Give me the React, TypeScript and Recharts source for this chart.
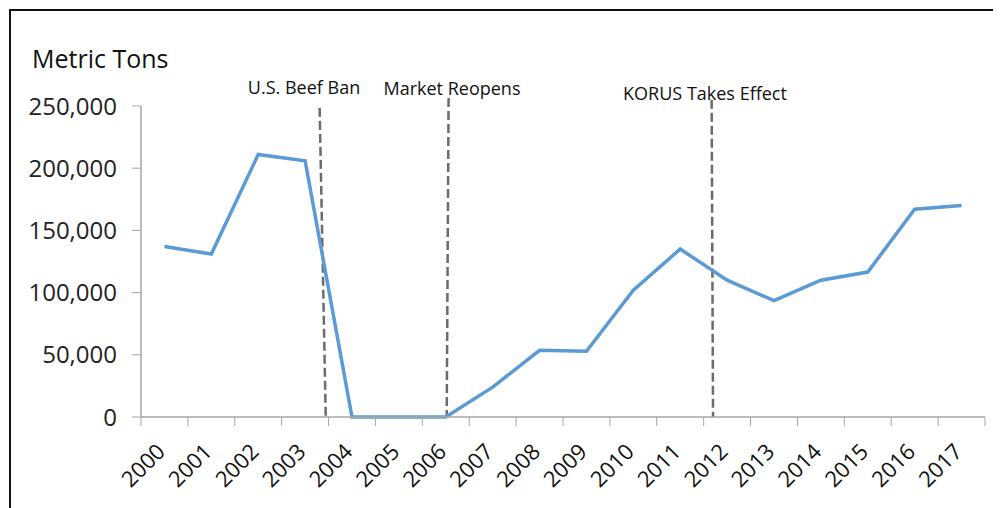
import React from 'react';
import { LineChart, Line, XAxis, YAxis, ReferenceLine } from 'recharts';

const years = [
  '2000', '2001', '2002', '2003', '2004', '2005', '2006', '2007', '2008',
  '2009', '2010', '2011', '2012', '2013', '2014', '2015', '2016', '2017',
];

// metric tons
const tons = [
  137000, 131000, 211000, 206000, 0, 0, 0, 24000, 53600,
  52800, 102000, 135000, 110000, 93500, 110000, 116500, 167000, 170000,
];

const yTicks = [0, 50000, 100000, 150000, 200000, 250000];

// events: name plus the dashed line's top/bottom position (category index units)
const events = [
  { name: 'U.S. Beef Ban', top: { x: 3.31, y: 248500 }, bottom: { x: 3.44, y: 0 } },
  { name: 'Market Reopens', top: { x: 6.06, y: 256500 }, bottom: { x: 6.02, y: 0 } },
  { name: 'KORUS Takes Effect', top: { x: 11.67, y: 255000 }, bottom: { x: 11.7, y: 0 } },
];

const data = years.map((year, i) => ({ idx: i, year, tons: tons[i] }));
const boundaryTicks = Array.from({ length: years.length + 1 }, (_, i) => i - 0.5);

const W = 1001;
const H = 508;
const Y_AXIS_W = 141;
const RIGHT = 16;
const HALF_STEP = (W - Y_AXIS_W - RIGHT) / years.length / 2;
const FONT = '"Open Sans", "Noto Sans", sans-serif';

function YearTick(props: any) {
  const { x, y, payload } = props;
  const i = payload.value + 0.5;
  if (i >= years.length) return null;
  const tx = x + HALF_STEP + 2;
  const ty = y + 25;
  return (
    <text
      x={tx}
      y={ty}
      textAnchor="end"
      transform={`rotate(-45 ${tx} ${ty})`}
      fontSize={22}
      fontFamily={FONT}
      fill="#111"
    >
      {years[i]}
    </text>
  );
}

// label positions for the event captions
const captionPos = [
  { x: 304, y: 94 },
  { x: 452, y: 95 },
  { x: 705, y: 100 },
];

export default function App() {
  return (
    <div style={{ position: 'relative', width: W, height: H, margin: '-8px 0 0 -8px', overflow: 'hidden', background: '#fff' }}>
      <div
        style={{
          position: 'absolute',
          left: 9,
          top: 9,
          width: 1100,
          height: 600,
          border: '2px solid #111',
        }}
      />
      <div style={{ position: 'absolute', left: 0, top: 0 }}>
        <LineChart width={W} height={H} data={data} margin={{ top: 106, right: RIGHT, bottom: 0, left: 0 }}>
          <XAxis
            dataKey="idx"
            type="number"
            domain={[-0.5, years.length - 0.5]}
            ticks={boundaryTicks}
            interval={0}
            tickSize={9}
            stroke="#a6a6a6"
            tickLine={{ stroke: '#a6a6a6' }}
            axisLine={{ stroke: '#a6a6a6', strokeWidth: 1.5 }}
            tick={<YearTick />}
            height={91}
          />
          <YAxis
            domain={[0, 250000]}
            ticks={yTicks}
            interval={0}
            width={Y_AXIS_W}
            tickSize={9}
            tickMargin={15}
            axisLine={{ stroke: '#a6a6a6', strokeWidth: 1.5 }}
            tickLine={{ stroke: '#a6a6a6' }}
            tick={{ fill: '#222', fontSize: 24, fontFamily: FONT }}
            tickFormatter={(v: number) => v.toLocaleString('en-US')}
          />
          {events.map((e) => (
            <ReferenceLine
              key={e.name}
              segment={[e.top, e.bottom]}
              ifOverflow="visible"
              stroke="#6b6b6b"
              strokeWidth={2.5}
              strokeDasharray="9 4"
            />
          ))}
          <Line
            dataKey="tons"
            type="linear"
            stroke="#5b9bd5"
            strokeWidth={3.5}
            dot={false}
            isAnimationActive={false}
          />
        </LineChart>
      </div>
      <svg width={W} height={H} style={{ position: 'absolute', left: 0, top: 0, pointerEvents: 'none' }}>
        <text x={32} y={68} fontSize={25} fontFamily={FONT} fill="#111">
          Metric Tons
        </text>
        {events.map((e, i) => (
          <text
            key={e.name}
            x={captionPos[i].x}
            y={captionPos[i].y}
            textAnchor="middle"
            fontSize={18}
            fontFamily={FONT}
            fill="#111"
          >
            {e.name}
          </text>
        ))}
      </svg>
    </div>
  );
}
